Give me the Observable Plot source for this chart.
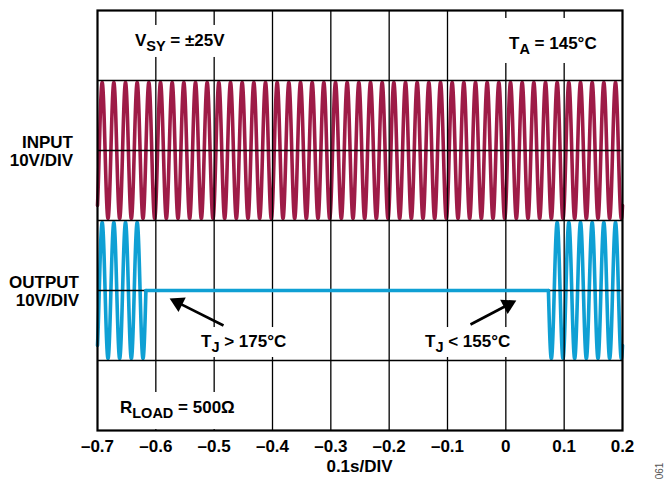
<!DOCTYPE html>
<html><head><meta charset="utf-8">
<script src="https://cdn.jsdelivr.net/npm/d3@7"></script>
<script src="https://cdn.jsdelivr.net/npm/@observablehq/plot@0.6"></script>
<style>
html,body{margin:0;padding:0;background:#fff;}
#chart{width:665px;height:481px;}
</style>
</head><body><div id="chart"></div>
<script>
// ---- data ----
const xTicks = [-0.7, -0.6, -0.5, -0.4, -0.3, -0.2, -0.1, 0, 0.1, 0.2];
const yDivisions = [-3, -2, -1, 0, 1, 2, 3];
const channelNames = ["INPUT", "OUTPUT"];
const channelScales = ["10V/DIV", "10V/DIV"];
const channelCenters = [1, -1];          // trace centre, in divisions
const signalFrequencyHz = [50];          // 5 cycles per 0.1 s division
const signalAmplitudeDiv = [0.97];       // ≈1 division peak
const firstPeakTime = [-0.692];          // s
const inputOnSegments = [[-0.7, 0.2]];
const outputOnSegments = [[-0.7, -0.617], [0.073, 0.2]];
const outputOffSegments = [[-0.617, 0.073]];

// annotations
const noteMain = ["V", "T", "R", "T", "T"];
const noteSub = ["SY", "A", "LOAD", "J", "J"];
const noteRest = [" = ±25V", " = 145°C", " = 500Ω", " > 175°C", " < 155°C"];
const noteX = [-0.635, 0.0063, -0.6606, -0.5217, -0.1377];
const noteY = [2.486, 2.443, -2.757, -1.814, -1.814];
const boxX1 = [-0.6383, -0.0091, -0.6743, -0.5269, -0.1463];
const boxX2 = [-0.4754, 0.1709, -0.4549, -0.3657, 0.0114];
const boxY1 = [2.786, 2.886, -2.457, -1.529, -1.529];
const boxY2 = [2.329, 2.243, -2.986, -1.957, -1.957];
const arrowX1 = [-0.484, -0.0606];
const arrowY1 = [-1.5, -1.486];
const arrowX2 = [-0.5697, 0.0114];
const arrowY2 = [-1.143, -1.171];

// ---- build traces ----
function trace(segments, center) {
  const out = [];
  const f = signalFrequencyHz[0], A = signalAmplitudeDiv[0], t0 = firstPeakTime[0];
  segments.forEach((s, i) => {
    const n = Math.round((s[1] - s[0]) / 0.0001);
    for (let k = 0; k <= n; k++) {
      const t = s[0] + (s[1] - s[0]) * k / n;
      out.push({t, v: center + A * Math.cos(2 * Math.PI * f * (t - t0)), seg: i});
    }
  });
  return out;
}
const inputData = trace(inputOnSegments, channelCenters[0]);
const outputData = trace(outputOnSegments, channelCenters[1]);
const outputFlat = outputOffSegments.flatMap((s, i) => [{t: s[0], v: channelCenters[1], seg: i}, {t: s[1], v: channelCenters[1], seg: i}]);

const inputColor = "#9e1b47";
const outputColor = "#0fa0d4";

const W = 665, H = 481, ML = 97, MR = 43, MT = 10, MB = 51;
const pxPerX = (W - ML - MR) / (0.2 - -0.7);
const pxPerY = (H - MT - MB) / 6;

const boxes = boxX1.map((d, i) => ({x1: boxX1[i], x2: boxX2[i], y1: boxY1[i], y2: boxY2[i]}));
const arrows = arrowX1.map((d, i) => {
  const dx = (arrowX2[i] - arrowX1[i]) * pxPerX, dy = -(arrowY2[i] - arrowY1[i]) * pxPerY;
  const len = Math.hypot(dx, dy);
  const back = 5;
  return {
    x1: arrowX1[i], y1: arrowY1[i],
    x2: arrowX2[i] - (dx / len) * back * 1.2 / pxPerX,
    y2: arrowY2[i] + (dy / len) * back * 1.2 / pxPerY,
    hx: arrowX2[i] - (dx / len) * back / pxPerX,
    hy: arrowY2[i] + (dy / len) * back / pxPerY,
    rot: Math.atan2(dx, -dy) * 180 / Math.PI
  };
});

const fontFamily = "Arial, 'Liberation Sans', Arimo, sans-serif";

const plot = Plot.plot({
  width: W, height: H,
  marginLeft: ML, marginRight: MR, marginTop: MT, marginBottom: MB,
  style: {fontFamily, fontSize: "17px", fontWeight: "bold", color: "#000", background: "#fff", overflow: "visible"},
  x: {domain: [-0.7, 0.2], ticks: xTicks, tickSize: 0, tickPadding: 9, label: null,
      tickFormat: d => Math.abs(d) < 1e-9 ? "0" : (d < 0 ? "\u2013" : "") + Math.abs(d).toFixed(1)},
  y: {domain: [-3, 3], axis: null},
  marks: [
    Plot.line(inputData, {x: "t", y: "v", z: "seg", stroke: inputColor, strokeWidth: 3.6, strokeLinejoin: "round"}),
    Plot.line(outputData, {x: "t", y: "v", z: "seg", stroke: outputColor, strokeWidth: 3.6, strokeLinejoin: "round"}),
    Plot.ruleX(xTicks.slice(1, -1), {stroke: "#000", strokeWidth: 1.3}),
    Plot.ruleY(yDivisions.slice(1, -1), {stroke: "#000", strokeWidth: 1.3}),
    Plot.line(outputFlat, {x: "t", y: "v", z: "seg", stroke: outputColor, strokeWidth: 3.6}),
    Plot.rect(boxes, {x1: "x1", x2: "x2", y1: "y1", y2: "y2", fill: "#fff"}),
    Plot.link(arrows, {x1: "x1", y1: "y1", x2: "x2", y2: "y2", stroke: "#000", strokeWidth: 2.6}),
    Plot.dot(arrows, {x: "hx", y: "hy", symbol: "triangle", r: 6, fill: "#000", stroke: "none", rotate: "rot"}),
    Plot.frame({stroke: "#000", strokeWidth: 2.2})
  ]
});

const svg = d3.select(plot);
const xs = plot.scale("x"), ys = plot.scale("y");

// annotation texts with subscripts
noteMain.forEach((m, i) => {
  const t = svg.append("text")
    .attr("x", xs.apply(noteX[i])).attr("y", ys.apply(noteY[i]))
    .attr("text-anchor", "start")
    .attr("font-family", fontFamily).attr("font-weight", "bold")
    .attr("font-size", 17).attr("fill", "#000");
  t.append("tspan").text(m);
  t.append("tspan").attr("font-size", 14.5).attr("dy", 5).text(noteSub[i]);
  t.append("tspan").attr("dy", -5).text(noteRest[i]);
});

// channel labels on the left
const labelRight = [73, 79];
channelNames.forEach((n, i) => {
  const cy = ys.apply(channelCenters[i]);
  const g = svg.append("text")
    .attr("text-anchor", "end").attr("font-family", fontFamily)
    .attr("font-weight", "bold").attr("font-size", 17).attr("fill", "#000");
  g.append("tspan").attr("x", labelRight[i]).attr("y", cy - 2).text(n);
  g.append("tspan").attr("x", labelRight[i]).attr("y", cy + 16).text(channelScales[i]);
});

// x-axis title
svg.append("text")
  .attr("x", (xs.apply(-0.7) + xs.apply(0.2)) / 2).attr("y", H - 9)
  .attr("text-anchor", "middle").attr("font-family", fontFamily)
  .attr("font-weight", "bold").attr("font-size", 17).attr("fill", "#000")
  .text("0.1s/DIV");

// figure code
svg.append("text")
  .attr("transform", `translate(${W - 2},${H - 10}) rotate(-90)`)
  .attr("text-anchor", "middle").attr("font-family", fontFamily)
  .attr("font-size", 10).attr("fill", "#555").attr("font-weight", "normal")
  .text("061");

document.getElementById("chart").appendChild(plot);
</script>
</body></html>
